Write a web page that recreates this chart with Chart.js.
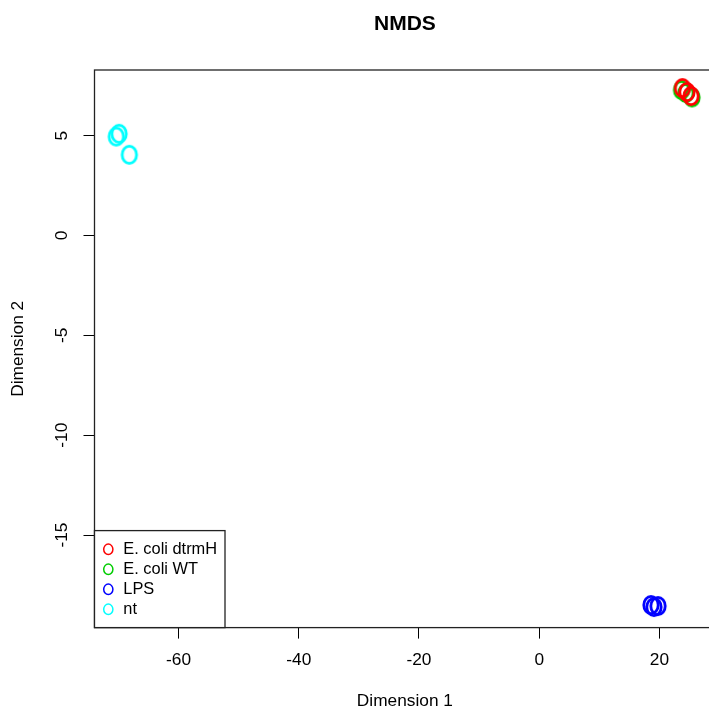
<!DOCTYPE html>
<html><head><meta charset="utf-8">
<script src="https://cdn.jsdelivr.net/npm/chart.js@4"></script>
<style>html,body{margin:0;padding:0;background:#fff;overflow:hidden;width:709px;height:711px}canvas{display:block}</style>
</head><body>
<canvas id="c" width="740" height="711"></canvas>
<script>
// ---- data ----
const groups = ["E. coli dtrmH", "E. coli WT", "LPS", "nt"];
const groupColors = ["#FF0000", "#00CD00", "#0000FF", "#00FFFF"];
const dtrmH_x = [23.84, 24.59, 25.26];
const dtrmH_y = [7.38, 7.18, 6.98];
const wt_x = [23.68, 24.40, 25.43];
const wt_y = [7.28, 7.13, 6.91];
const lps_x = [18.60, 19.10, 19.77];
const lps_y = [-18.50, -18.60, -18.55];
const nt_x = [-70.37, -69.90, -68.19];
const nt_y = [4.95, 5.09, 4.04];
const xTicks = [-60, -40, -20, 0, 20];
const yTicks = [-15, -10, -5, 0, 5];
const xRange = [-73.99, 29.30];
const yRange = [-19.63, 8.284];
const titleText = "NMDS";
const xTitle = "Dimension 1";
const yTitle = "Dimension 2";

const FONT = "'Liberation Sans', Arial, Helvetica, sans-serif";
Chart.defaults.color = '#000';
Chart.defaults.font.family = FONT;

function ring(color, rx, ry, lw) {
  const c = document.createElement('canvas');
  const w = Math.ceil(2 * rx + lw + 2), h = Math.ceil(2 * ry + lw + 2);
  c.width = w; c.height = h;
  const g = c.getContext('2d');
  g.strokeStyle = color; g.lineWidth = lw;
  g.beginPath(); g.ellipse(w / 2, h / 2, rx, ry, 0, 0, Math.PI * 2); g.stroke();
  return c;
}

const seriesX = [dtrmH_x, wt_x, lps_x, nt_x];
const seriesY = [dtrmH_y, wt_y, lps_y, nt_y];

const datasets = groups.map((g, k) => ({
  label: g,
  data: seriesX[k].map((x, i) => ({ x: x, y: seriesY[k][i] })),
  pointStyle: ring(groupColors[k], 7.2, 8.6, 2.8),
  borderColor: groupColors[k],
  backgroundColor: 'rgba(0,0,0,0)',
  showLine: false,
  clip: 20
}));

const rLegend = {
  id: 'rLegend',
  afterDraw(chart) {
    const { ctx, chartArea: a } = chart;
    ctx.save();
    // plot frame
    ctx.strokeStyle = '#222';
    ctx.lineWidth = 1.3;
    ctx.strokeRect(a.left, a.top, a.right - a.left, a.bottom - a.top);
    // legend box (bottom-left)
    const bw = 130.5, bh = 97;
    const bx = a.left, by = a.bottom - bh;
    ctx.fillStyle = '#fff';
    ctx.fillRect(bx, by, bw, bh);
    ctx.strokeRect(bx, by, bw, bh);
    ctx.font = '16.4px ' + FONT;
    ctx.textBaseline = 'middle';
    ctx.textAlign = 'left';
    chart.data.datasets.forEach((ds, i) => {
      const y = by + 18.7 + i * 20;
      ctx.strokeStyle = ds.borderColor;
      ctx.lineWidth = 1.5;
      ctx.beginPath();
      ctx.ellipse(bx + 13.8, y, 4.6, 5.2, 0, 0, Math.PI * 2);
      ctx.stroke();
      ctx.fillStyle = '#000';
      ctx.fillText(ds.label, bx + 28.8, y + 0.5);
    });
    ctx.restore();
  }
};

new Chart(document.getElementById('c'), {
  type: 'scatter',
  data: { datasets },
  options: {
    responsive: false,
    animation: false,
    events: [],
    layout: { padding: { left: 0, right: 740 - 715.3, top: 0, bottom: 0 } },
    plugins: {
      legend: { display: false },
      tooltip: { enabled: false },
      title: {
        display: true, text: titleText, fullSize: false,
        font: { size: 21, weight: 'bold', family: FONT, lineHeight: 1.2 },
        color: '#000',
        padding: { top: 12, bottom: 32.8 }
      }
    },
    scales: {
      x: {
        type: 'linear', min: xRange[0], max: xRange[1],
        afterBuildTicks: s => { s.ticks = xTicks.map(v => ({ value: v })); },
        afterFit: s => { s.height = 711 - 627.6; },
        border: { display: false },
        grid: { drawOnChartArea: false, drawTicks: true, tickLength: 11, color: '#000', tickColor: '#000', lineWidth: 1 },
        ticks: { autoSkip: false, maxRotation: 0, minRotation: 0, padding: 11, color: '#000',
                 font: { size: 17.3, family: FONT, lineHeight: 1.2 } },
        title: { display: true, text: xTitle, color: '#000',
                 font: { size: 17.3, family: FONT, lineHeight: 1 }, padding: { top: 0, bottom: 1.4 } }
      },
      y: {
        type: 'linear', min: yRange[0], max: yRange[1],
        afterBuildTicks: s => { s.ticks = yTicks.map(v => ({ value: v })); },
        afterFit: s => { s.width = 94.5; },
        border: { display: false },
        grid: { drawOnChartArea: false, drawTicks: true, tickLength: 11, color: '#000', tickColor: '#000', lineWidth: 1 },
        ticks: { autoSkip: false, minRotation: 90, maxRotation: 90, crossAlign: 'center', padding: 9, color: '#000',
                 font: { size: 17.3, family: FONT, lineHeight: 1.2 } },
        title: { display: true, text: yTitle, color: '#000',
                 font: { size: 17.3, family: FONT, lineHeight: 1 }, padding: { top: 9.35, bottom: 0 } }
      }
    }
  },
  plugins: [rLegend]
});
</script>
</body></html>
